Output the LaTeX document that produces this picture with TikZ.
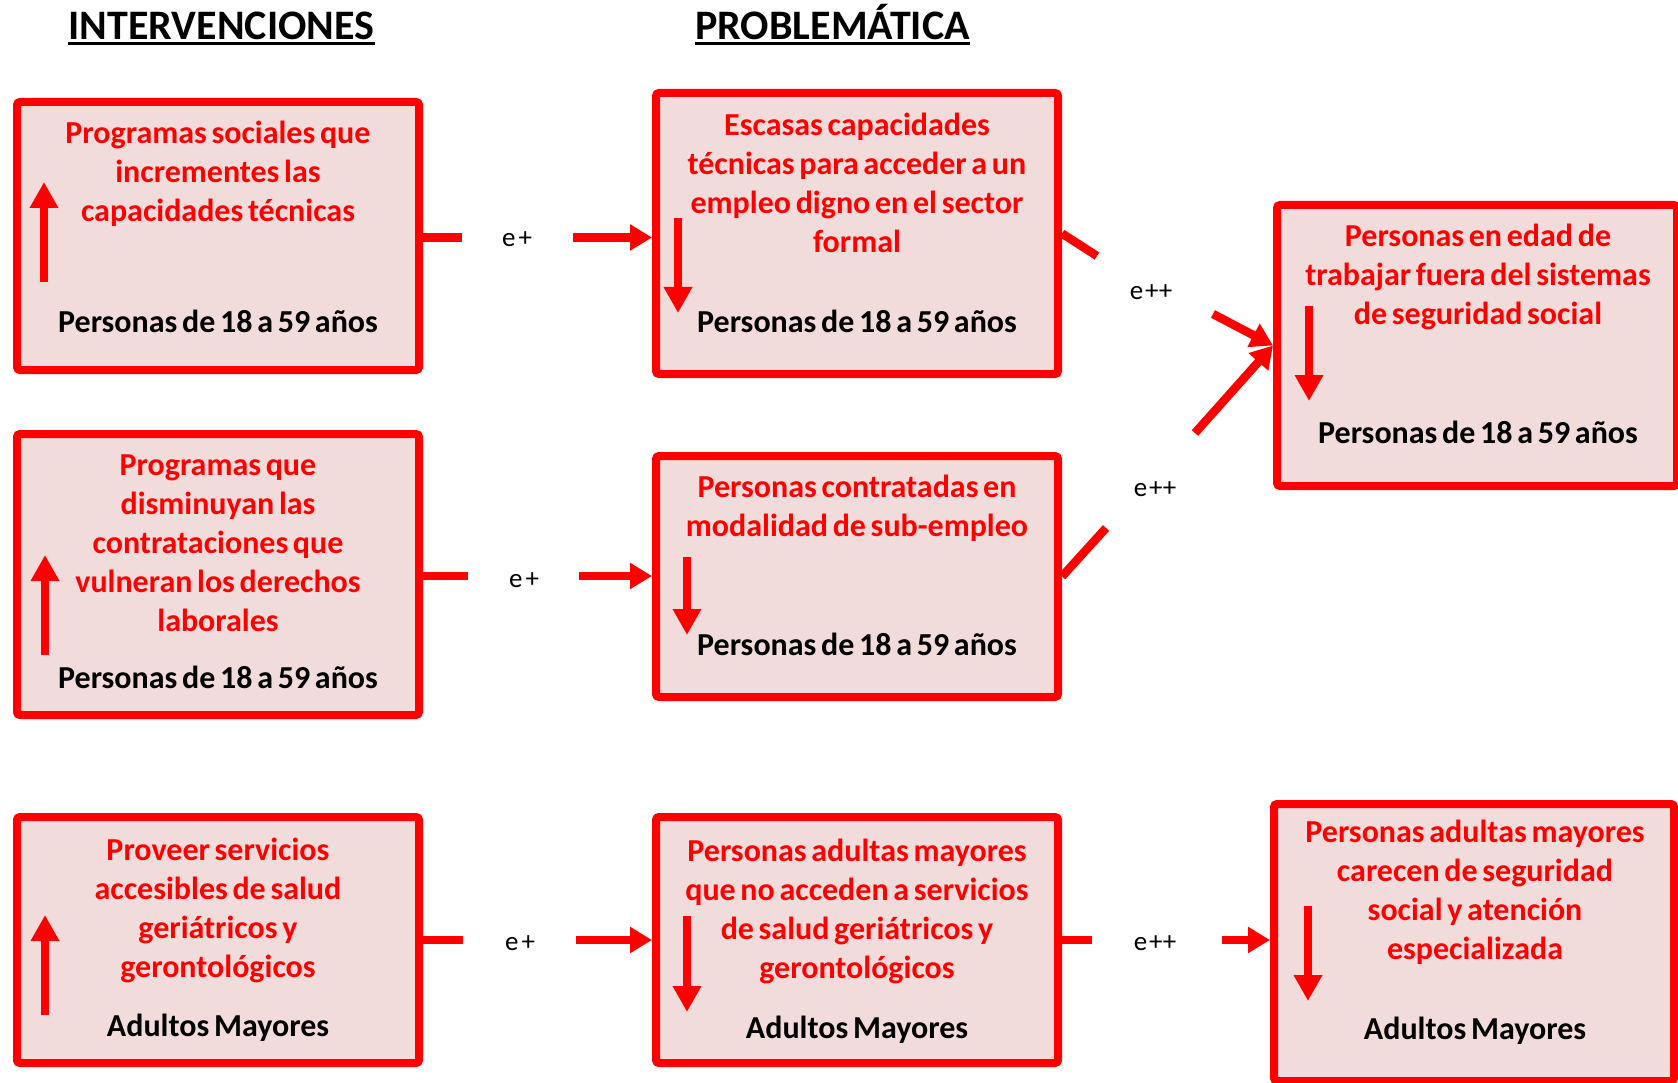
\documentclass[tikz,border=0pt]{standalone}
\usepackage{fontspec}
\setmainfont{Carlito}[WordSpace=0.65]
\usetikzlibrary{arrows.meta}
\definecolor{boxfill}{RGB}{242,220,219}
\definecolor{boxred}{RGB}{255,0,0}
\newcommand\bxfont{\fontsize{32}{39}\selectfont\bfseries}
\newcommand\lblfont{\fontsize{27}{32}\selectfont}
\newcommand\ttlfont{\fontsize{42}{48}\selectfont\bfseries}
\begin{document}
\begin{tikzpicture}[x=1pt,y=-1pt,
 box/.style={draw=boxred, fill=boxfill, line width=8pt, rounded corners=3pt, inner sep=0pt},
 rtext/.style={anchor=north, inner sep=0pt, align=center, text=boxred, font=\bxfont},
 btext/.style={anchor=base, inner sep=0pt, font=\bxfont},
 lbl/.style={anchor=base, inner sep=0pt, font=\lblfont},
 ttl/.style={anchor=base, inner sep=0pt, font=\ttlfont},
 conn/.style={draw=boxred, line width=8.5pt},
 connarr/.style={conn, -{Triangle[width=25pt,length=22pt]}},
 ind/.style={draw=boxred, line width=8.5pt, -{Triangle[width=27pt,length=26pt]}}
]
\useasboundingbox (0,0) rectangle (1678,1083);

% titles
\node[ttl] (t1) at (221.5,39.5) {INTERVENCIONES};
\node[ttl] (t2) at (832.5,39.5) {PROBLEMÁTICA};
\draw[line width=3.3pt] ([yshift=-3.8pt]t1.base west) -- ([yshift=-3.8pt]t1.base east);
\draw[line width=3.3pt] ([yshift=-3.8pt]t2.base west) -- ([yshift=-3.8pt]t2.base east);

% boxes
\node[box, minimum width=402pt, minimum height=268pt] (b1) at (218,236) {};
\node[box, minimum width=402pt, minimum height=281pt] (b2) at (218,574.5) {};
\node[box, minimum width=402pt, minimum height=246pt] (b3) at (218,940) {};
\node[box, minimum width=402pt, minimum height=281pt] (b4) at (857,233.5) {};
\node[box, minimum width=402pt, minimum height=241pt] (b5) at (857,576.5) {};
\node[box, minimum width=402pt, minimum height=246pt] (b6) at (857,940) {};
\node[box, minimum width=400pt, minimum height=281pt] (b7) at (1477,345.5) {};
\node[box, minimum width=400pt, minimum height=277pt] (b8) at (1474,942.5) {};

% texts
\node[rtext] (x1) at (218,115.7) {\strut Programas sociales que\\\strut incrementes las\\\strut capacidades técnicas};
\node[btext] (y1) at (218,332) {Personas de 18 a 59 años};
\node[rtext] (x2) at (218,447.7) {\strut Programas que\\\strut disminuyan las\\\strut contrataciones que\\\strut vulneran los derechos\\\strut laborales};
\node[btext] (y2) at (218,688) {Personas de 18 a 59 años};
\node[rtext] (x3) at (218,832.7) {\strut Proveer servicios\\\strut accesibles de salud\\\strut geriátricos y\\\strut gerontológicos};
\node[btext] (y3) at (218,1036) {Adultos Mayores};
\node[rtext] (x4) at (857,108.2) {\strut Escasas capacidades\\\strut técnicas para acceder a un\\\strut empleo digno en el sector\\\strut formal};
\node[btext] (y4) at (857,332) {Personas de 18 a 59 años};
\node[rtext] (x5) at (857,470.2) {\strut Personas contratadas en\\\strut modalidad de sub-empleo};
\node[btext] (y5) at (857,655) {Personas de 18 a 59 años};
\node[rtext] (x6) at (857,833.7) {\strut Personas adultas mayores\\\strut que no acceden a servicios\\\strut de salud geriátricos y\\\strut gerontológicos};
\node[btext] (y6) at (857,1038) {Adultos Mayores};
\node[rtext] (x7) at (1478,219.2) {\strut Personas en edad de\\\strut trabajar fuera del sistemas\\\strut de seguridad social};
\node[btext] (y7) at (1478,443) {Personas de 18 a 59 años};
\node[rtext] (x8) at (1475,815.2) {\strut Personas adultas mayores\\\strut carecen de seguridad\\\strut social y atención\\\strut especializada};
\node[btext] (y8) at (1475,1039) {Adultos Mayores};

% indicator arrows
\draw[ind] (44,282) -- (44,182);
\draw[ind] (45,655) -- (45,555);
\draw[ind] (45,1015) -- (45,915);
\draw[ind] (678,218) -- (678,313);
\draw[ind] (687,557) -- (687,635);
\draw[ind] (687,916) -- (687,1012);
\draw[ind] (1309,306) -- (1309,401);
\draw[ind] (1308,906) -- (1308,1001);

% labels
\node[lbl] (l1) at (517,247) {e\kern3pt+};
\node[lbl] (l2) at (524,587) {e\kern3pt+};
\node[lbl] (l3) at (520,950) {e\kern3pt+};
\node[lbl] (l4) at (1151,299) {e\kern2pt++};
\node[lbl] (l5) at (1155,496) {e\kern2pt++};
\node[lbl] (l6) at (1155,950) {e\kern2pt++};

% connectors
\coordinate (r1a) at (462,237.5);
\coordinate (r1b) at (573,237.5);
\draw[conn] (b1.east |- r1a) -- (r1a);
\draw[connarr] (r1b) -- (r1b -| b4.west);

\coordinate (r2a) at (468,576);
\coordinate (r2b) at (579,576);
\draw[conn] (b2.east |- r2a) -- (r2a);
\draw[connarr] (r2b) -- (r2b -| b5.west);

\coordinate (r3a) at (463,940);
\coordinate (r3b) at (576,940);
\draw[conn] (b3.east |- r3a) -- (r3a);
\draw[connarr] (r3b) -- (r3b -| b6.west);

\coordinate (r4a) at (1092,940);
\coordinate (r4b) at (1222,940);
\draw[conn] (b6.east |- r4a) -- (r4a);
\draw[connarr] (r4b) -- (r4b -| b8.west);

\coordinate (d1a) at (1097,256);
\coordinate (d1b) at (1213,314);
\draw[conn] (b4.east) -- (d1a);
\draw[connarr] (d1b) -- (b7.west);

\coordinate (d2a) at (1106,528);
\coordinate (d2b) at (1195,433);
\draw[conn] (b5.east) -- (d2a);
\draw[connarr] (d2b) -- (b7.west);
\end{tikzpicture}
\end{document}
